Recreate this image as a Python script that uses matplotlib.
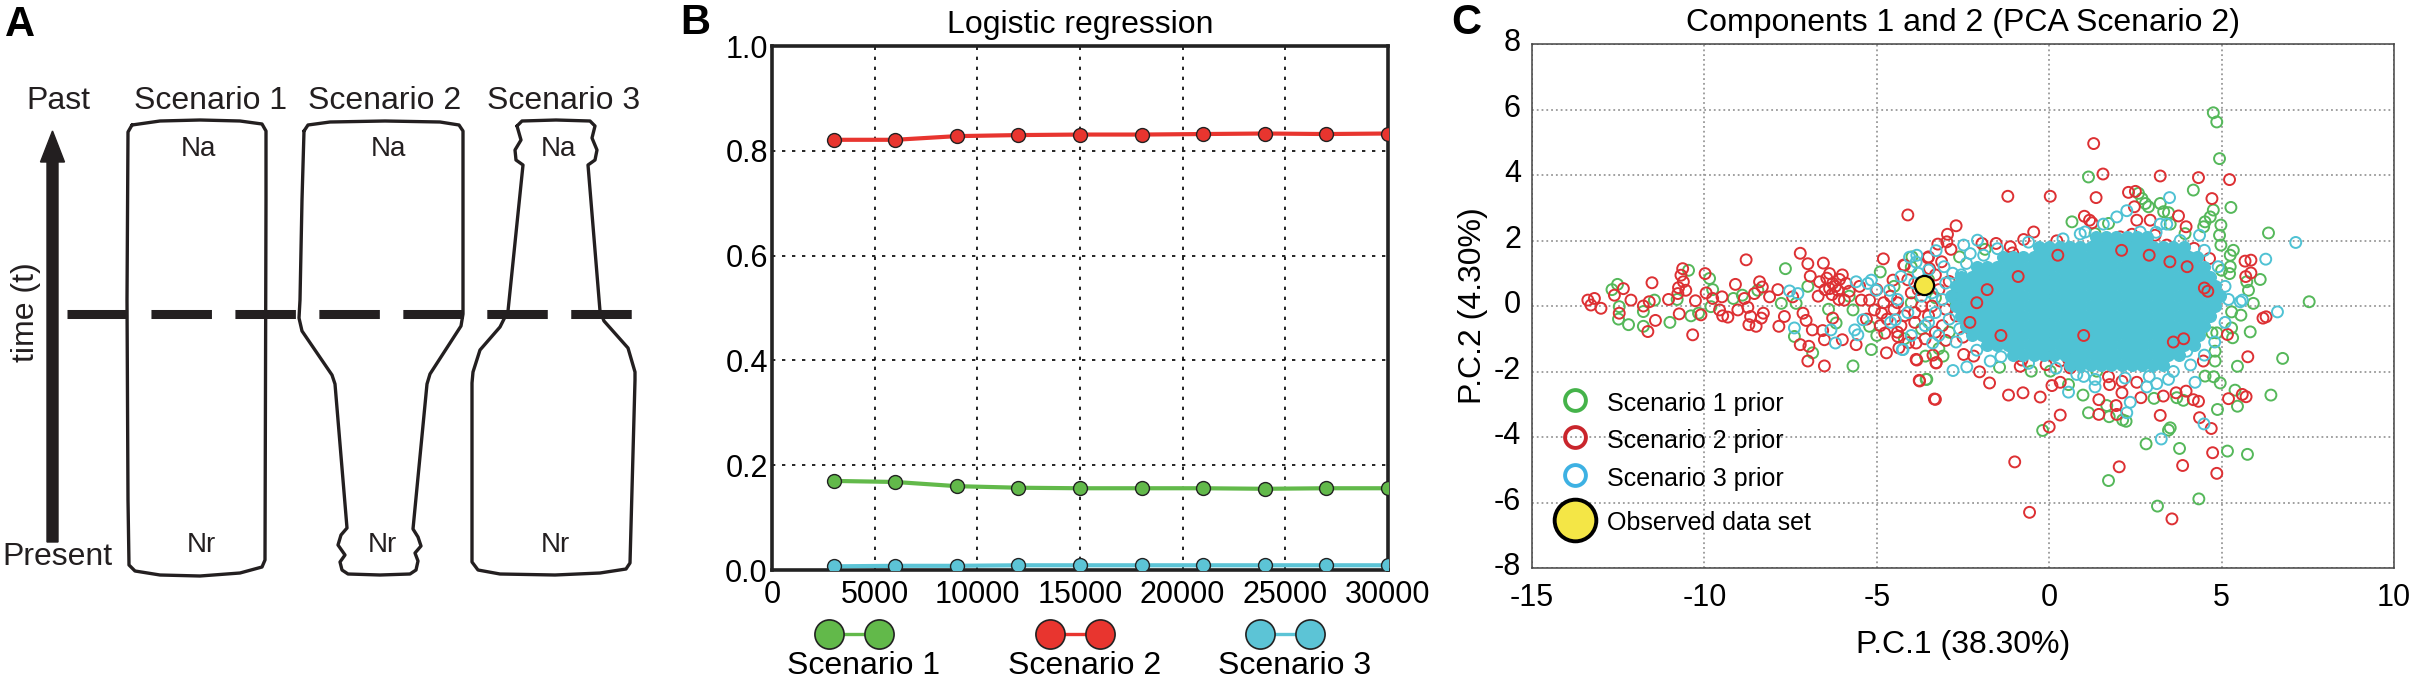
import matplotlib
matplotlib.use("Agg")
import matplotlib.pyplot as plt
from matplotlib.lines import Line2D
from matplotlib.patches import FancyArrow
from matplotlib.transforms import ScaledTranslation

plt.rcParams['font.family'] = ['Liberation Sans', 'DejaVu Sans']
plt.rcParams['axes.unicode_minus'] = False

W, H = 2411, 683

# ---------------- panel A: scenario outlines (pixel units) ----------------
scenario_names = ["Scenario 1", "Scenario 2", "Scenario 3"]
s1_outline = [(132, 125), (160, 121), (200, 120), (240, 121), (262, 124), (266, 131),
              (266, 200), (265, 560), (262, 567), (240, 573), (200, 576), (160, 575),
              (135, 571), (129, 565), (128, 500), (127, 300), (128, 132), (132, 125)]
s2_outline = [(304, 131), (308, 125), (330, 122), (385, 121), (440, 122), (459, 125),
              (463, 131), (463, 200), (463, 314), (461, 326), (430, 374), (427, 384),
              (413, 529), (418, 537), (421, 546), (415, 553), (418, 561), (416, 570),
              (410, 574), (380, 575), (348, 574), (342, 570), (340, 562), (345, 555),
              (338, 545), (341, 535), (347, 528), (335, 384), (332, 375), (302, 331),
              (299, 318), (300, 300), (302, 200), (304, 131)]
s3_outline = [(517, 126), (522, 121), (556, 120), (590, 121), (595, 126), (592, 138),
              (597, 150), (595, 160), (588, 165), (600, 311), (604, 321), (628, 348),
              (635, 372), (635, 380), (630, 563), (626, 569), (600, 573), (555, 575),
              (500, 574), (478, 570), (472, 562), (472, 383), (473, 372), (480, 350),
              (500, 327), (508, 311), (523, 165), (516, 160), (515, 150), (521, 140),
              (517, 126)]

# ---------------- panel B: logistic regression ----------------
sample_sizes = [3000, 6000, 9000, 12000, 15000, 18000, 21000, 24000, 27000, 30000]
prob_s1 = [0.170, 0.168, 0.160, 0.157, 0.156, 0.156, 0.156, 0.155, 0.156, 0.156]
prob_s2 = [0.821, 0.821, 0.828, 0.830, 0.831, 0.831, 0.832, 0.833, 0.832, 0.833]
prob_s3 = [0.007, 0.008, 0.008, 0.009, 0.009, 0.009, 0.009, 0.009, 0.009, 0.009]

# ---------------- panel C: PCA ----------------
green_prior = [
    (-12.68, 0.50), (-12.52, 0.66), (-12.47, -0.02), (-12.49, -0.40), (-12.2, -0.57),
    (-11.77, -0.17), (-11.45, 0.18), (-11.77, -0.62), (-11.0, -0.50), (-10.79, 0.20),
    (-10.46, 1.09), (-10.39, -0.30), (-10.17, -0.22), (-9.85, 0.84), (-9.76, 0.50),
    (-9.81, -0.02), (-9.16, 0.23), (-8.9, 0.33), (-8.45, 0.48), (-7.77, 0.08),
    (-7.65, 1.14), (-7.34, 0.08), (-7.39, -0.93), (-6.86, -1.43), (-6.18, -0.52),
    (-5.69, -0.12), (-5.69, -1.83), (-5.21, -0.62), (-5.16, -1.33), (-4.9, 1.04),
    (-4.0, 1.19), (-3.57, -2.24), (-4.5, 0.6), (-4.2, -1.0), (-3.2, -1.3), (-2.6, 1.5),
    (-5.0, -0.9), (-5.8, 0.3), (-6.4, -0.1), (-7.0, 0.6),
    (-3.3, 0.25), (-2.9, -0.8), (-3.5, 0.8), (-2.7, 0.1), (-4.0, 0.1), (-3.7, -0.7),
    (4.76, 5.90), (4.86, 5.62), (4.94, 4.50), (1.14, 3.94), (4.18, 3.54), (5.27, 3.01),
    (-1.86, 1.73), (2.59, 3.44), (2.69, 3.28), (2.79, 3.13), (2.88, 3.03), (3.22, 3.13),
    (3.32, 2.88), (3.46, 2.85), (3.94, 2.21), (0.66, 2.57), (1.72, 2.52), (1.33, 2.21),
    (3.51, 2.50), (4.76, 2.93), (4.67, 2.72), (4.52, 2.57), (4.98, 2.47), (4.48, 2.42),
    (4.94, 2.16), (4.98, 1.86), (5.34, 1.70), (5.25, 1.55), (6.36, 2.23), (6.12, 0.81),
    (5.73, 0.74), (5.78, 0.48), (5.25, 1.20), (5.23, 0.99), (5.0, 1.09), (7.54, 0.13),
    (5.92, 0.08), (5.29, -0.18), (-3.98, 1.50),
    (-0.19, -3.80), (-3.55, -2.24), (-3.59, -1.53), (-3.08, -1.53), (-1.44, -1.87),
    (-0.52, -1.99), (0.56, -2.40), (0.98, -2.72), (1.14, -3.26), (1.74, -3.38),
    (2.23, -3.52), (1.67, -3.04), (3.04, -2.82), (3.51, -3.72), (3.46, -3.79),
    (2.81, -4.21), (3.78, -4.35), (1.72, -5.33), (3.14, -6.11), (4.34, -5.89),
    (5.17, -4.43), (5.75, -4.53), (4.88, -3.16), (5.46, -3.06), (5.39, -2.57),
    (6.43, -2.72), (6.77, -1.60), (5.46, -1.84), (4.96, -2.35), (4.77, -2.16),
    (4.52, -2.14), (3.89, -2.88), (3.70, -2.80), (5.83, -0.79), (5.56, -0.28),
    (5.29, -0.67), (5.32, -0.97), (4.86, -0.82), (4.72, -0.82), (4.81, -1.38),
    (4.81, -1.68), (1.38, -1.99), (0.03, -1.99), (2.13, -3.48),
]
red_prior = [
    (-13.38, 0.18), (-13.19, 0.23), (-13.29, 0.03), (-13.0, -0.07), (-12.35, 0.53),
    (-12.61, 0.33), (-12.47, -0.22), (-12.13, 0.18), (-11.77, 0.0), (-11.52, 0.71),
    (-11.6, 0.13), (-11.42, -0.44), (-11.64, -0.78), (-11.04, 0.20), (-10.73, -0.24),
    (-10.63, 1.14), (-10.68, 0.94), (-10.61, 0.74), (-10.75, 0.56), (-10.54, 0.48),
    (-10.77, 0.38), (-10.26, 0.16), (-10.34, -0.88), (-10.1, -0.27), (-9.98, 0.99),
    (-9.95, 0.40), (-9.76, 0.23), (-9.56, -0.12), (-9.49, 0.28), (-9.47, -0.30),
    (-9.32, -0.34), (-9.1, 0.66), (-9.03, -0.12), (-8.79, 1.41), (-8.84, 0.23),
    (-8.74, -0.04), (-8.66, -0.32), (-8.71, -0.57), (-8.5, -0.62), (-8.55, 0.38),
    (-8.4, 0.74), (-8.32, 0.58), (-8.29, -0.22), (-8.35, -0.37), (-8.11, 0.28),
    (-7.87, 0.50), (-7.84, -0.62), (-7.68, -0.32), (-7.44, 0.28), (-7.22, 1.61),
    (-7.0, 1.29), (-7.14, -0.22), (-7.05, -0.44), (-7.22, -1.18), (-6.97, -1.23),
    (-7.0, -1.68), (-6.87, -0.73), (-6.93, 0.91), (-6.55, 1.31), (-6.52, -1.83),
    (-6.52, -1.03), (-6.57, -0.75), (-6.66, 0.74), (-6.37, 0.99), (-6.28, 0.69),
    (-6.37, 0.53), (-6.08, 0.81), (-6.13, 0.48), (-5.89, 0.69), (-5.94, 0.18),
    (-6.28, -0.37), (-6.0, -1.03), (-5.6, -1.18), (-5.45, 0.18), (-5.21, 0.18),
    (-5.07, -0.12), (-4.81, 1.44), (-4.86, -0.22), (-4.77, -0.83), (-4.72, -1.43),
    (-4.53, 0.79), (-4.39, -0.93), (-4.36, -1.28), (-4.10, 2.78), (-4.2, 1.24),
    (-3.52, 1.47), (-3.47, 1.14), (-3.86, -1.63), (-3.76, -2.29), (-3.33, -2.84),
    (-3.86, -1.13), (-3.28, -1.73), (-3.23, 1.89),
    (-6.45, 0.85), (-6.2, 0.6), (-6.0, 0.95), (-6.3, 0.35), (-6.1, 0.2), (-5.8, 0.45),
    (-6.5, 0.5), (-6.7, 0.3), (-4.6, 0.3), (-4.4, 0.1), (-4.2, -0.3), (-4.0, 0.4),
    (-3.9, -0.5), (-4.3, -0.6), (-3.7, 0.0), (-3.5, -0.3), (-4.7, -0.4), (-4.1, 0.8),
    (-3.8, 0.5), (-3.3, -0.8), (-3.6, -1.0), (-4.5, -0.1), (-5.0, 0.5), (-5.3, -0.4),
    (-5.5, 0.6), (-4.9, -0.6),
    (-3.2, 0.5), (-3.0, -0.1), (-2.8, 0.3), (-3.4, 0.0), (-3.1, -0.6), (-2.7, -0.3),
    (-3.6, 0.6), (-2.9, 0.75), (-3.3, 0.95), (-2.5, -0.95), (-3.0, -1.05), (-2.6, 0.55),
    (-4.8, 0.1), (-4.4, -0.8), (-3.9, -0.2),
    (1.29, 4.96), (1.56, 4.03), (1.36, 3.31), (3.22, 3.97), (4.33, 3.92), (5.23, 3.86),
    (4.72, 3.28), (-1.2, 3.35), (0.03, 3.35), (-2.70, 2.45), (-2.95, 2.19), (-2.97, 1.96),
    (-2.85, 1.73), (-0.45, 2.26), (-1.54, 1.91), (-0.74, 2.03), (-1.95, 1.91),
    (-1.06, 1.62), (2.30, 3.47), (2.47, 3.03), (3.75, 2.75), (3.97, 2.42), (1.02, 2.74),
    (1.17, 2.62), (1.24, 2.54), (2.54, 2.62), (2.93, 2.62), (2.06, 2.11), (2.40, 2.19),
    (3.07, 2.16), (3.41, 1.86), (5.68, 1.37), (5.85, 1.40), (5.85, 1.01), (4.47, 0.53),
    (4.62, 0.50), (6.29, -0.33), (4.20, 1.76), (4.65, 1.45), (-4.22, 1.25), (-3.50, 1.50),
    (-3.12, 1.35), (-1.13, 1.81), (-0.07, 1.67), (0.22, 1.99), (2.5, 3.5), (5.7, 0.9),
    (-1.0, -4.76), (-0.57, -6.30), (0.0, -3.69), (0.32, -3.33), (-0.26, -2.78),
    (-0.76, -2.65), (-1.18, -2.72), (-1.73, -2.35), (-2.02, -2.01), (-3.30, -2.85),
    (-3.77, -2.27), (-3.84, -1.65), (-3.37, -1.50), (-3.28, -1.74), (-0.84, -1.84),
    (0.08, -2.43), (0.32, -2.33), (1.44, -2.86), (1.44, -3.31), (1.94, -3.04),
    (1.96, -3.31), (2.11, -2.65), (2.66, -2.80), (3.31, -2.75), (3.22, -3.34),
    (3.87, -4.87), (2.03, -4.91), (3.56, -6.50), (4.86, -5.11), (4.74, -4.48),
    (4.70, -3.74), (4.36, -3.41), (5.20, -2.83), (5.71, -2.77), (5.76, -1.55),
    (4.33, -2.91), (4.18, -2.86), (3.97, -2.60), (3.68, -2.65), (5.17, -0.87),
    (3.60, -1.12), (3.80, -1.10), (4.47, -1.68), (2.54, -2.33), (2.11, -2.30),
    (1.72, -2.16), (1.75, -2.40), (0.61, -1.89), (0.32, -1.68), (-0.09, -1.79),
    (0.56, -1.63), (-0.79, -1.65), (-2.48, -1.48), (-2.19, -1.53), (-4.08, -1.12),
    (6.2, -0.37), (5.6, -2.7),
]
cyan_prior = [
    (-7.53, 0.46), (-7.29, 0.38), (-7.39, -0.67), (-6.33, -0.73), (-6.2, -1.13),
    (-5.6, 0.74), (-5.64, -0.73), (-5.55, -0.88), (-5.26, 0.69), (-5.16, 0.79),
    (-5.40, -0.42), (-5.02, 0.48), (-4.63, 0.48), (-4.46, -0.42), (-4.26, -1.33),
    (-4.05, 1.49), (-3.86, 1.34), (-3.38, -1.13), (-3.28, 1.69),
    (-4.4, 0.2), (-4.1, -0.2), (-3.9, 0.7), (-3.6, -0.6), (-4.6, -0.5), (-3.8, 1.0),
    (-4.3, 0.9), (-3.5, 1.1), (-4.0, -0.9),
    (-3.1, 0.2), (-2.9, -0.4), (-3.3, -0.2), (-3.0, 0.7), (-3.4, 0.4), (-2.8, 1.0),
    (-3.2, -0.9), (-2.7, -1.1), (-3.5, -0.5), (-3.7, 0.3), (-2.6, -0.7), (-3.05, 1.2),
    (-2.55, 0.95),
    (-2.48, 1.86), (-2.08, 2.01), (3.49, 3.31), (2.25, 2.91), (1.96, 2.72), (1.57, 2.50),
    (1.04, 2.26), (2.64, 2.26), (3.22, 2.50), (3.41, 2.50), (4.36, 2.16), (7.15, 1.94),
    (6.28, 1.43), (5.54, 0.13), (6.62, -0.18), (-2.29, 1.60), (-3.84, 1.55),
    (-2.79, -1.97), (-2.39, -1.86), (0.56, -2.63), (2.35, -2.94), (2.25, -3.26),
    (1.33, -2.47), (1.33, -2.24), (4.49, -3.60), (3.25, -4.06), (4.23, -2.33),
    (3.99, -1.38), (3.46, -2.24), (3.12, -2.37), (2.83, -2.47), (0.80, -2.09),
    (-1.71, -1.68), (-4.24, -1.33), (5.6, 0.18),
    (-1.5, 1.75), (-0.6, 1.95), (0.4, 2.05), (0.9, 2.2), (3.1, 2.25), (3.8, 2.0),
    (4.5, 1.7), (4.9, 1.2), (5.1, 0.6), (5.2, 0.2), (5.1, -0.5), (4.8, -1.1), (4.5, -1.5),
    (4.1, -1.8), (3.6, -2.0), (2.9, -2.15), (2.2, -2.2), (1.0, -2.15), (0.2, -1.9),
    (-0.6, -1.75), (-1.4, -1.55), (-2.1, -1.35), (-2.4, 1.3), (-1.9, 1.55),
]
# the dense centre of the Scenario 3 cloud, one row of centres per level
core_levels = [2.1, 1.8, 1.5, 1.2, 0.9, 0.6, 0.3, 0.0, -0.3, -0.6, -0.9, -1.2, -1.5, -1.8]
core_rows = [
    [1.35, 1.65, 1.95, 2.25, 2.55, 2.85],
    [-0.3, 0.0, 0.3, 0.6, 0.9, 1.2, 1.5, 1.8, 2.1, 2.4, 2.7, 3.0, 3.3, 3.6, 3.9],
    [-1.35, -1.05, -0.75, -0.45, -0.15, 0.15, 0.45, 0.75, 1.05, 1.35, 1.65, 1.95,
     2.25, 2.55, 2.85, 3.15, 3.45, 3.75, 4.05, 4.3],
    [-2.1, -1.8, -1.5, -1.2, -0.9, -0.6, -0.3, 0.0, 0.3, 0.6, 0.9, 1.2, 1.5, 1.8,
     2.1, 2.4, 2.7, 3.0, 3.3, 3.6, 3.9, 4.2, 4.5],
    [-2.55, -2.25, -1.95, -1.65, -1.35, -1.05, -0.75, -0.45, -0.15, 0.15, 0.45,
     0.75, 1.05, 1.35, 1.65, 1.95, 2.25, 2.55, 2.85, 3.15, 3.45, 3.75, 4.05, 4.35, 4.65],
    [-2.7, -2.4, -2.1, -1.8, -1.5, -1.2, -0.9, -0.6, -0.3, 0.0, 0.3, 0.6, 0.9, 1.2,
     1.5, 1.8, 2.1, 2.4, 2.7, 3.0, 3.3, 3.6, 3.9, 4.2, 4.5, 4.8],
    [-2.85, -2.55, -2.25, -1.95, -1.65, -1.35, -1.05, -0.75, -0.45, -0.15, 0.15,
     0.45, 0.75, 1.05, 1.35, 1.65, 1.95, 2.25, 2.55, 2.85, 3.15, 3.45, 3.75, 4.05, 4.35,
     4.65, 4.95],
    [-2.7, -2.4, -2.1, -1.8, -1.5, -1.2, -0.9, -0.6, -0.3, 0.0, 0.3, 0.6, 0.9,
     1.2, 1.5, 1.8, 2.1, 2.4, 2.7, 3.0, 3.3, 3.6, 3.9, 4.2, 4.5, 4.8],
    [-2.55, -2.25, -1.95, -1.65, -1.35, -1.05, -0.75, -0.45, -0.15, 0.15,
     0.45, 0.75, 1.05, 1.35, 1.65, 1.95, 2.25, 2.55, 2.85, 3.15, 3.45, 3.75, 4.05, 4.35,
     4.65],
    [-2.4, -2.1, -1.8, -1.5, -1.2, -0.9, -0.6, -0.3, 0.0, 0.3, 0.6, 0.9, 1.2,
     1.5, 1.8, 2.1, 2.4, 2.7, 3.0, 3.3, 3.6, 3.9, 4.2, 4.5],
    [-2.25, -1.95, -1.65, -1.35, -1.05, -0.75, -0.45, -0.15, 0.15, 0.45,
     0.75, 1.05, 1.35, 1.65, 1.95, 2.25, 2.55, 2.85, 3.15, 3.45, 3.75, 4.05, 4.35],
    [-1.8, -1.5, -1.2, -0.9, -0.6, -0.3, 0.0, 0.3, 0.6, 0.9, 1.2, 1.5, 1.8,
     2.1, 2.4, 2.7, 3.0, 3.3, 3.6, 3.9, 4.2],
    [-1.05, -0.75, -0.45, -0.15, 0.15, 0.45, 0.75, 1.05, 1.35, 1.65, 1.95, 2.25, 2.55,
     2.85, 3.15, 3.45, 3.75],
    [0.6, 0.9, 1.2, 1.5, 1.8, 2.1, 2.4, 2.7, 3.0, 3.3],
]
# Scenario 2 rings that sit on top of the dense centre
red_over_core = [(0.25, 1.55), (2.1, 1.7), (2.9, 1.55), (3.5, 1.35), (4.0, 1.2),
                 (4.5, 0.55), (4.6, 0.45), (-0.9, 0.9), (-1.8, 0.5), (-2.3, -0.5),
                 (1.0, -0.9), (3.9, -1.0), (3.6, -1.1), (-2.1, 0.1), (-1.4, -0.9)]
observed = (-3.62, 0.64)

# colours
INK = '#231F20'
B_GREEN, B_RED, B_CYAN = '#62B94A', '#E8352F', '#5CC4D6'
C_GREEN, C_RED, C_CYAN = '#55B85A', '#DD3033', '#4FC2D4'
L_GREEN, L_RED, L_CYAN = '#45B34A', '#C9252C', '#3DB1E3'
YELLOW = '#F4E646'


def fx(x):
    return x / W


def fy(y):
    return 1 - y / H


fig = plt.figure(figsize=(W / 100, H / 100), dpi=100)

# ======================= A =======================
axA = fig.add_axes([0, 0, 675 / W, 1])
axA.set_xlim(0, 675)
axA.set_ylim(H, 0)
axA.axis('off')

for outline in (s1_outline, s2_outline, s3_outline):
    axA.plot([p[0] for p in outline], [p[1] for p in outline], color=INK, lw=2.4,
             solid_joinstyle='round', solid_capstyle='round')

dash, = axA.plot([67, 635], [314, 314], color=INK, lw=6.5, solid_capstyle='butt')
dash.set_dashes((6.7, 2.6))
dash.set_dash_capstyle('butt')

axA.add_patch(FancyArrow(52.5, 542, 0, -411, width=11, head_width=24, head_length=31,
                         length_includes_head=True, fc=INK, ec=INK, lw=1))

axA.text(58, 101, "Past", fontsize=23, ha='center', va='center', color=INK)
axA.text(57, 557, "Present", fontsize=23, ha='center', va='center', color=INK)
axA.text(26, 312, "time (t)", fontsize=23, ha='center', va='center', rotation=90, color=INK)
for name, cx in zip(scenario_names, [211, 385, 564]):
    axA.text(cx, 101, name, fontsize=23, ha='center', va='center', color=INK)
for cx in [198, 388, 558]:
    axA.text(cx, 149, "Na", fontsize=20, ha='center', va='center', color=INK)
for cx in [201, 382, 555]:
    axA.text(cx, 545, "Nr", fontsize=20, ha='center', va='center', color=INK)

for letter, (lx, ly) in zip("ABC", [(20, 25), (695, 23), (1466, 23)]):
    fig.text(fx(lx), fy(ly), letter, fontsize=30, fontweight='bold', ha='center', va='center')

# ======================= B =======================
axB = fig.add_axes([fx(772), fy(570), 616 / W, 524 / H])
for probs, col in [(prob_s1, B_GREEN), (prob_s2, B_RED), (prob_s3, B_CYAN)]:
    axB.plot(sample_sizes, probs, '-o', color=col, lw=3, ms=10, mfc=col, mec='#222222',
             mew=1.0, zorder=3)
axB.set_xlim(0, 30000)
axB.set_ylim(0, 1)
axB.set_xticks(range(0, 30001, 5000))
axB.set_yticks([0, 0.2, 0.4, 0.6, 0.8, 1.0])
axB.set_yticklabels(["%.1f" % v for v in [0, 0.2, 0.4, 0.6, 0.8, 1.0]])
axB.grid(True, color='black', linestyle=(0, (2, 4)), lw=1.2)
axB.tick_params(length=0, labelsize=22)
axB.tick_params(axis='x', pad=7)
axB.tick_params(axis='y', pad=3)
for sp in axB.spines.values():
    sp.set_linewidth(2.6)
    sp.set_color('#222222')
axB.set_title("Logistic regression", fontsize=23, pad=9)

# legend of B, handle above label
for name, col, cx in zip(scenario_names, [B_GREEN, B_RED, B_CYAN], [854, 1075, 1285]):
    fig.add_artist(Line2D([fx(cx - 25), fx(cx + 25)], [fy(634), fy(634)],
                          transform=fig.transFigure, color=col, lw=2.4, marker='o',
                          ms=21, mfc=col, mec='#222222', mew=1.2))
    fig.text(fx(cx + 10), fy(666), name, fontsize=23, ha='center', va='center')

# ======================= C =======================
axC = fig.add_axes([fx(1532), fy(568), 862 / W, 524 / H])
for pts, col in [(green_prior, C_GREEN), (red_prior, C_RED), (cyan_prior, C_CYAN)]:
    axC.scatter([p[0] for p in pts], [p[1] for p in pts], s=62, facecolors='none',
                edgecolors=col, linewidths=1.4, zorder=2)
core_x = [x for row in core_rows for x in row]
core_y = [lv for lv, row in zip(core_levels, core_rows) for _ in row]
axC.scatter(core_x, core_y, s=70, facecolors=C_CYAN, edgecolors=C_CYAN, linewidths=1.0,
            zorder=3)
axC.scatter([p[0] for p in red_over_core], [p[1] for p in red_over_core], s=62,
            facecolors='none', edgecolors=C_RED, linewidths=1.4, zorder=3.5)
axC.scatter([observed[0]], [observed[1]], s=190, facecolors=YELLOW, edgecolors='black',
            linewidths=1.6, zorder=4)

axC.set_xlim(-15, 10)
axC.set_ylim(-8, 8)
axC.set_xticks(range(-15, 11, 5))
axC.set_yticks(range(-8, 9, 2))
axC.grid(True, color='#999999', linestyle=':', lw=1.3)
axC.set_axisbelow(True)
axC.tick_params(length=0, labelsize=22, pad=8)
axC.tick_params(axis='x', pad=11)
for lab in axC.get_yticklabels():
    lab.set_transform(lab.get_transform() + ScaledTranslation(0, 3 / 72, fig.dpi_scale_trans))
for sp in axC.spines.values():
    sp.set_linewidth(1.1)
    sp.set_color('#444444')
axC.set_title("Components 1 and 2 (PCA Scenario 2)", fontsize=23, pad=9)
axC.set_xlabel("P.C.1 (38.30%)", fontsize=23, labelpad=12)
axC.set_ylabel("P.C.2 (4.30%)", fontsize=23, labelpad=4)

# legend of C
legend_rows = [("Scenario 1 prior", L_GREEN, 400), ("Scenario 2 prior", L_RED, 437),
               ("Scenario 3 prior", L_CYAN, 475)]
for name, col, yy in legend_rows:
    fig.add_artist(Line2D([fx(1575)], [fy(yy)], transform=fig.transFigure, ls='none',
                          marker='o', ms=15, mfc='none', mec=col, mew=2.8))
    fig.text(fx(1607), fy(yy + 4), name, fontsize=18, ha='left', va='center')
fig.add_artist(Line2D([fx(1575)], [fy(520)], transform=fig.transFigure, ls='none',
                      marker='o', ms=30, mfc=YELLOW, mec='black', mew=2.8))
fig.text(fx(1607), fy(523), "Observed data set", fontsize=18, ha='left', va='center')

fig.savefig("out.png", dpi=100)
